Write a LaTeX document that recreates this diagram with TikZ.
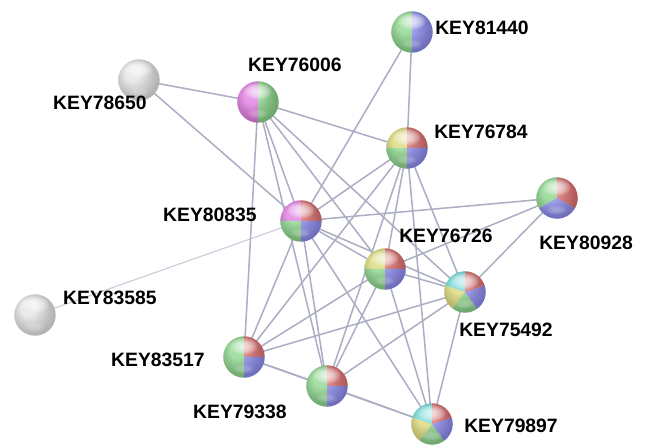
\documentclass[tikz,border=0pt]{standalone}
\usepackage{fontspec}
\setmainfont{Liberation Sans}
\usetikzlibrary{calc}
\definecolor{cG}{RGB}{112,204,112}
\definecolor{cB}{RGB}{112,112,236}
\definecolor{cR}{RGB}{214,76,76}
\definecolor{cY}{RGB}{210,208,86}
\definecolor{cM}{RGB}{218,90,218}
\definecolor{cC}{RGB}{76,206,206}
\definecolor{cW}{RGB}{222,222,222}
\definecolor{edgecol}{RGB}{172,174,196}
\tikzset{
  edge/.style={draw=edgecol, line width=1.15pt},
  faintedge/.style={draw=edgecol!65, line width=0.8pt},
  lbl/.style={font=\bfseries\fontsize{14.5}{16}\selectfont, text=black, inner sep=0pt},
  keypt/.style={circle, minimum size=31pt, inner sep=0pt},
}
\newcommand\keyball[2]{%
  \foreach \sa/\ea/\cc in {#2}{\fill[\cc] (#1.center) -- ++(\sa:15.5pt) arc[start angle=\sa, end angle=\ea, radius=15.5pt] -- cycle;}
  \shade[ball color=white, opacity=0.38] (#1.center) circle[radius=15.5pt];
  \foreach \k in {1,...,7}{\fill[white, opacity=0.14] ([yshift=8pt]#1.center) ellipse[x radius={11.5pt-\k*1.2pt}, y radius={6.8pt-\k*0.65pt}];}
  \foreach \k in {1,...,3}{\fill[white, opacity=0.08] ([yshift=-9pt]#1.center) ellipse[x radius={9pt-\k*1.5pt}, y radius={4pt-\k*0.7pt}];}
}
\begin{document}
\begin{tikzpicture}[x=0.75pt,y=-0.75pt]
\useasboundingbox (0,0) rectangle (645,448);
% node positions
\node[keypt] (k81440) at (412,32) {};
\node[keypt] (k76006) at (258,102) {};
\node[keypt] (k78650) at (139,80) {};
\node[keypt] (k76784) at (407,148) {};
\node[keypt] (k80835) at (301,221) {};
\node[keypt] (k80928) at (557,198) {};
\node[keypt] (k76726) at (385,269) {};
\node[keypt] (k75492) at (465,292) {};
\node[keypt] (k83585) at (35,315) {};
\node[keypt] (k83517) at (244,357) {};
\node[keypt] (k79338) at (327,386) {};
\node[keypt] (k79897) at (432,424) {};
% edges
\draw[edge] (k78650.center) -- (k76006.center);
\draw[edge] (k78650.center) -- (k80835.center);
\draw[faintedge] (k83585.center) -- (k80835.center);
\draw[edge] (k81440.center) -- (k80835.center);
\draw[edge] (k81440.center) -- (k76784.center);
\foreach \a/\b in {76006/76784,76006/80835,76006/76726,76006/75492,76006/83517,76006/79338,
  76784/80835,76784/76726,76784/75492,76784/83517,76784/79338,76784/79897,
  80835/80928,80835/76726,80835/75492,80835/83517,80835/79338,80835/79897,
  80928/76726,80928/75492,76726/75492,76726/83517,76726/79338,76726/79897,
  75492/83517,75492/79338,75492/79897,83517/79338,83517/79897,79338/79897}
  {\draw[edge] (k\a.center) -- (k\b.center);}
% spheres
\keyball{k81440}{90/270/cG,-90/90/cB}
\keyball{k76006}{90/270/cM,-90/90/cG}
\keyball{k78650}{0/360/cW}
\keyball{k83585}{0/360/cW}
\keyball{k76784}{90/180/cY,0/90/cR,180/270/cG,270/360/cB}
\keyball{k80835}{90/180/cM,0/90/cR,180/270/cG,270/360/cB}
\keyball{k76726}{90/180/cY,0/90/cR,180/270/cG,270/360/cB}
\keyball{k80928}{90/210/cG,-30/90/cR,210/330/cB}
\keyball{k75492}{90/162/cC,162/234/cY,234/306/cG,306/378/cB,18/90/cR}
\keyball{k79897}{90/162/cC,162/234/cY,234/306/cG,306/378/cB,18/90/cR}
\keyball{k83517}{90/270/cG,0/90/cR,270/360/cB}
\keyball{k79338}{90/270/cG,0/90/cR,270/360/cB}
% labels
\node[lbl] (l81440) at (482,28) {KEY81440};
\node[lbl] (l76006) at (295,65) {KEY76006};
\node[lbl] (l78650) at (100,103) {KEY78650};
\node[lbl] (l76784) at (481,132) {KEY76784};
\node[lbl] (l80835) at (210,215) {KEY80835};
\node[lbl] (l76726) at (446,236) {KEY76726};
\node[lbl] (l80928) at (586,243) {KEY80928};
\node[lbl] (l83585) at (110,298) {KEY83585};
\node[lbl] (l75492) at (506,330) {KEY75492};
\node[lbl] (l83517) at (158,360) {KEY83517};
\node[lbl] (l79338) at (240,412) {KEY79338};
\node[lbl] (l79897) at (511,426) {KEY79897};
\end{tikzpicture}
\end{document}
